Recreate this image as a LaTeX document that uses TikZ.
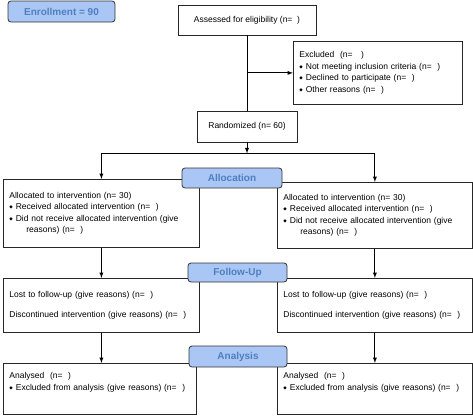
\documentclass[tikz,border=0pt]{standalone}
\usepackage{fontspec}
\setmainfont{Liberation Sans}
\newfontfamily\symfont{DejaVu Sans}
\usetikzlibrary{arrows,positioning,calc}
\definecolor{stagefill}{HTML}{A9C6F5}
\definecolor{stagetext}{HTML}{4F7FBF}
\newcommand{\bul}{\raisebox{1.2pt}{\symfont\fontsize{4.5}{6}\selectfont ◆}\hspace{3pt}}

\begin{document}
\begin{tikzpicture}
  [x=1pt,y=-1pt,
   flow/.style={draw=black!85, line width=0.8pt, font=\fontsize{8.5}{11.5}\selectfont, inner sep=0pt},
   box/.style={flow, anchor=north west, align=left, inner xsep=6pt},
   stage/.style={draw=black!80, line width=0.8pt, rounded corners=3pt, fill=stagefill, text=stagetext,
                 font=\bfseries\fontsize{10}{12}\selectfont, inner sep=0pt},
   arr/.style={-latex, line width=0.9pt}]
  \useasboundingbox (0,0) rectangle (473,415);

  \node [stage, minimum width=107, minimum height=21] (enrol) at (61.5,11.5) {Enrollment = 90};
  \node [flow, minimum width=138, minimum height=30] (assess) at (247,20) {Assessed for eligibility (n=~~)};
  \node [box, text width=157, minimum height=63] (excl) at (293,41)
    {Excluded~~(n=~~~)\\
     \bul Not meeting inclusion criteria (n=~~)\\
     \bul Declined to participate (n=~~)\\
     \bul Other reasons (n=~~)};
  \node [flow, minimum width=100, minimum height=31] (rand) at (247,126.5) {Randomized (n= 60)};

  \node [box, text width=184, minimum height=68] (allocL) at (3,179)
    {Allocated to intervention (n= 30)\\
     \bul Received allocated intervention (n=~~)\\
     \bul Did not receive allocated intervention (give\\
     \hspace*{17pt}reasons) (n=~~)};
  \node [box, text width=183, minimum height=66] (allocR) at (277,182)
    {Allocated to intervention (n= 30)\\
     \bul Received allocated intervention (n=~~)\\
     \bul Did not receive allocated intervention (give\\
     \hspace*{17pt}reasons) (n=~~)};

  \node [box, text width=184, minimum height=54] (followL) at (3,278)
    {Lost to follow-up (give reasons) (n=~~)\\[8pt]
     Discontinued intervention (give reasons) (n=~~)};
  \node [box, text width=183, minimum height=54] (followR) at (277,278)
    {Lost to follow-up (give reasons) (n=~~)\\[8pt]
     Discontinued intervention (give reasons) (n=~~)};

  \node [box, text width=181, minimum height=51] (anaL) at (3,363)
    {Analysed~~(n=~~)\\
     \bul Excluded from analysis (give reasons) (n=~~)\\[3pt]\mbox{}};
  \node [box, text width=183, minimum height=51] (anaR) at (277,363)
    {Analysed~~(n=~~)\\
     \bul Excluded from analysis (give reasons) (n=~~)\\[3pt]\mbox{}};

  \coordinate (split) at ($(rand.south)+(0,11)$);

  \path [line width=0.9pt]
  (assess) edge (rand)
  (allocL.north |- split) edge (allocR.north |- split);
  \path [arr]
  (assess.south |- excl.west) edge (excl.west)
  (rand) edge (split)
  (allocL.north |- split) edge (allocL.north)
  (allocR.north |- split) edge (allocR.north)
  (allocL) edge (followL)
  (allocR) edge (followR)
  (followL.south) edge (followL.south |- anaL.north)
  (followR.south) edge (followR.south |- anaR.north);

  \node [stage, minimum width=100, minimum height=20] (allocation) at (232,178) {Allocation};
  \node [stage, minimum width=99, minimum height=19] (followup) at (237.5,272.5) {Follow-Up};
  \node [stage, minimum width=98, minimum height=21] (analysis) at (238,356.5) {Analysis};
\end{tikzpicture}
\end{document}
